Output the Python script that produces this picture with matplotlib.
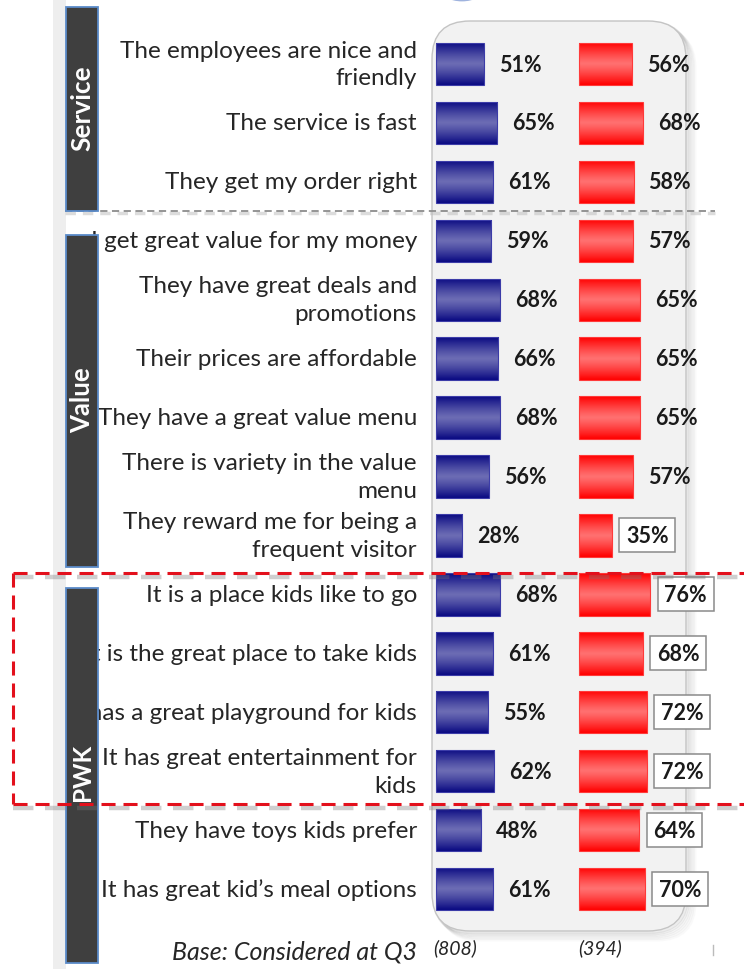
import numpy as np
import matplotlib
matplotlib.use('Agg')
import matplotlib.pyplot as plt
from matplotlib.patches import FancyBboxPatch, Rectangle, Ellipse
from matplotlib.colors import LinearSegmentedColormap

# ---------------- data ----------------
categories = [
    "The employees are nice and\nfriendly",
    "The service is fast",
    "They get my order right",
    "I get great value for my money",
    "They have great deals and\npromotions",
    "Their prices are affordable",
    "They have a great value menu",
    "There is variety in the value\nmenu",
    "They reward me for being a\nfrequent visitor",
    "It is a place kids like to go",
    "It is the great place to take kids",
    "It has a great playground for kids",
    "It has great entertainment for\nkids",
    "They have toys kids prefer",
    "It has great kid\u2019s meal options",
]
blue_values = [51, 65, 61, 59, 68, 66, 68, 56, 28, 68, 61, 55, 62, 48, 61]
red_values = [56, 68, 58, 57, 65, 65, 65, 57, 35, 76, 68, 72, 72, 64, 70]
red_boxed = [False] * 8 + [True] * 7
sections = ["Service", "Value", "PWK"]
base_label = "Base: Considered at Q3"
base_counts = ["(808)", "(394)"]

# ---------------- layout ----------------
W, H = 744, 970
PX = 0.94          # pixels per percentage point
X0 = 436           # pixel x of blue bar start
XR = 579           # pixel x of red bar start
Y0 = 65            # pixel y of first row
RS = 58.93         # row spacing in pixels
RED_OFF = (XR - X0) / PX
FONT = 'Lato'

fig = plt.figure(figsize=(W / 100, H / 100), dpi=100)
fig.patch.set_facecolor('white')

bg = fig.add_axes([0, 0, 1, 1], zorder=1)
ax = fig.add_axes([0, 0, 1, 1], zorder=2)
fg = fig.add_axes([0, 0, 1, 1], zorder=3)
for a in (bg, fg):
    a.set_xlim(0, W)
    a.set_ylim(H, 0)
    a.axis('off')
    a.patch.set_alpha(0)
ax.patch.set_alpha(0)
ax.axis('off')

# left light strip
bg.add_patch(Rectangle((53, 0), 13, H, fc='#eeeeee', ec='none'))

# small arc at top
bg.add_patch(Ellipse((462, -12), 44, 26, fc='none', ec='#9fb3de', lw=2))

# panel with shadow
for i, al in enumerate([0.10, 0.08, 0.06, 0.05, 0.04, 0.03]):
    off = 1.5 * (i + 1)
    bg.add_patch(FancyBboxPatch((432 + off, 22 + off), 254, 910,
                                boxstyle='round,pad=0,rounding_size=38',
                                fc='none', ec='#555555', lw=2.2, alpha=al))
bg.add_patch(FancyBboxPatch((432, 22), 254, 910,
                            boxstyle='round,pad=0,rounding_size=38',
                            fc='#f2f2f2', ec='#c4c4c4', lw=1.0))

# ---------------- bars ----------------
n = len(categories)
ys = np.arange(n)
bh = 0.72
blue_cmap = LinearSegmentedColormap.from_list('b', ['#6c6cb4', '#0a0a82'])
red_cmap = LinearSegmentedColormap.from_list('r', ['#ff7070', '#ff0000'])
grad = np.abs(np.linspace(-1, 1, 80)).reshape(-1, 1) ** 1.2


def gradient_bars(bars, cmap, edge):
    for b in bars:
        x0, y0 = b.get_x(), b.get_y()
        w, h = b.get_width(), b.get_height()
        b.set_facecolor('none')
        b.set_edgecolor(edge)
        b.set_linewidth(0.8)
        im = ax.imshow(grad, extent=[x0, x0 + w, y0 + h, y0], aspect='auto',
                       cmap=cmap, vmin=0, vmax=1, zorder=2, interpolation='bilinear')
        im.set_clip_path(b)


bb = ax.barh(ys, blue_values, left=0, height=bh, zorder=3)
rb = ax.barh(ys, red_values, left=RED_OFF, height=bh, zorder=3)
gradient_bars(bb, blue_cmap, '#3c3ca8')
gradient_bars(rb, red_cmap, '#ff3a3a')

VFS = 15.5
# value labels
for y, v in zip(ys, blue_values):
    ax.text(v + 15 / PX, y, f"{v}%", ha='left', va='center', fontsize=VFS,
            fontweight='bold', family=FONT, color='#1a1a1a', zorder=5)
for y, v, boxed in zip(ys, red_values, red_boxed):
    if boxed:
        ax.text(RED_OFF + v + 14 / PX, y, f"{v}%", ha='left', va='center',
                fontsize=VFS, fontweight='bold', family=FONT, color='#1a1a1a', zorder=6,
                bbox=dict(boxstyle='square,pad=0.3', fc='white', ec='#8a8a8a', lw=1.1))
    else:
        ax.text(RED_OFF + v + 15 / PX, y, f"{v}%", ha='left', va='center',
                fontsize=VFS, fontweight='bold', family=FONT, color='#1a1a1a', zorder=5)

# category labels
for y, c in zip(ys, categories):
    ax.text((417 - X0) / PX, y, c, ha='right', va='center', fontsize=17.5,
            family=FONT, color='#262626', linespacing=1.4, zorder=4)

ax.set_xlim(-X0 / PX, (W - X0) / PX)
ax.set_ylim((H - Y0) / RS, -Y0 / RS)

# ---------------- foreground decorations ----------------
# gray dashed separators
fg.plot([65, 715], [214, 214], color='#bbbbbb', lw=2.5, alpha=0.5, ls=(0, (3, 2)))
fg.plot([65, 715], [212, 212], color='#8c8c8c', lw=1.3, ls=(0, (4, 2.5)))

# section bars
sec_boxes = [(8, 212), (236, 568), (589, 964)]
sec_text_y = [108, 400, 772]
sec_sizes = [19, 18.5, 17.5]
for name, (t, b), ty, fs in zip(sections, sec_boxes, sec_text_y, sec_sizes):
    fg.add_patch(Rectangle((66, t), 32, b - t, fc='#3f3f3f', ec='#5b8bc9', lw=1.3, zorder=3))
    fg.text(82, ty, name, rotation=90, ha='center', va='center', color='white',
            fontsize=fs, fontweight='bold', family=FONT, zorder=4)

# red dashed box with shadow
red_ls = (0, (4.6, 2.6))
for (xs, yv) in [([13, W], [578, 578]), ([13, W], [809, 809])]:
    fg.plot(xs, yv, color='#777777', lw=3.2, alpha=0.35, ls=red_ls, zorder=5)
fg.plot([13, W], [574, 574], color='#e3101c', lw=2.2, ls=red_ls, zorder=6)
fg.plot([13, W], [805, 805], color='#e3101c', lw=2.2, ls=red_ls, zorder=6)
fg.plot([13, 13], [574, 805], color='#e3101c', lw=2.2, ls=red_ls, zorder=6)

# base line
bg.text(417, 952, base_label, ha='right', va='center', style='italic', fontsize=18,
        family=FONT, color='#262626')
for x, t in zip([455, 600], base_counts):
    bg.text(x, 948, t, ha='center', va='center', style='italic', fontsize=14,
            family=FONT, color='#262626')
bg.plot([713, 713], [946, 956], color='#bbbbbb', lw=1)

fig.savefig('out.png', dpi=100, facecolor='white')
